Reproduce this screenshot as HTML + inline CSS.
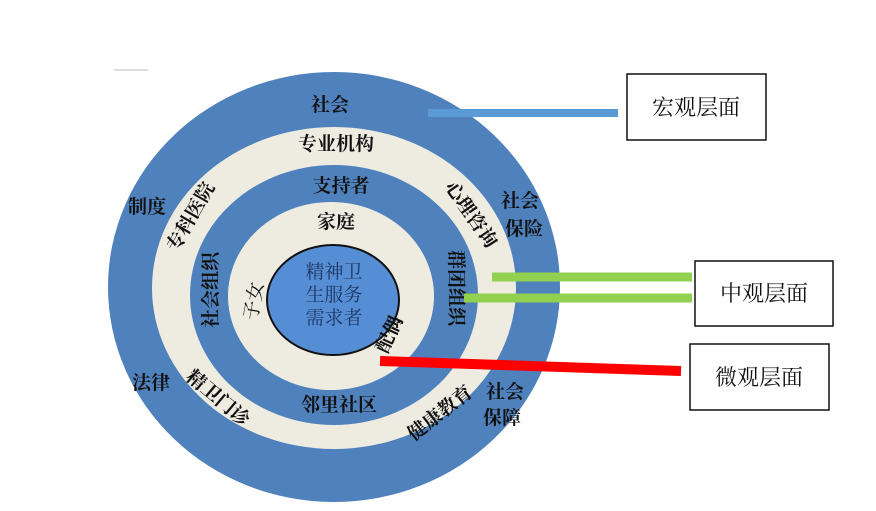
<!DOCTYPE html>
<html><head><meta charset="utf-8"><style>
html,body{margin:0;padding:0;background:#fff;width:876px;height:511px;overflow:hidden}
</style></head><body>
<svg width="876" height="511" viewBox="0 0 876 511" xmlns="http://www.w3.org/2000/svg" font-family="'Liberation Serif','Noto Serif CJK SC',serif">
<line x1="114" y1="70" x2="148" y2="70" stroke="#bbb" stroke-width="1"/>
<ellipse cx="334" cy="287" rx="226" ry="215" fill="#4f81bd"/>
<ellipse cx="334" cy="288" rx="182" ry="161" fill="#eeece1"/>
<ellipse cx="334" cy="295" rx="144" ry="130" fill="#4f81bd"/>
<ellipse cx="331" cy="296" rx="103" ry="94" fill="#eeece1"/>
<ellipse cx="333" cy="300" rx="66" ry="55" fill="#558ed5" stroke="#111" stroke-width="2"/>
<g font-weight="bold" font-size="19" fill="#111" text-anchor="middle">
<text x="330" y="111">社会</text>
<text x="336" y="150">专业机构</text>
<text x="341" y="192">支持者</text>
<text x="336" y="228">家庭</text>
<text x="147" y="213">制度</text>
<text x="151" y="389">法律</text>
<text x="520" y="207">社会</text>
<text x="524" y="235">保险</text>
<text x="505" y="398">社会</text>
<text x="502" y="424">保障</text>
<text x="339" y="411">邻里社区</text>
<text transform="translate(196,220) rotate(-60)">专科医院</text>
<text transform="translate(217,290) rotate(-90)">社会组织</text>
<text transform="translate(450,288) rotate(90)">群团组织</text>
<text transform="translate(466,218) rotate(55)">心理咨询</text>
<text transform="translate(214,403) rotate(40)">精卫门诊</text>
<text transform="translate(444,418) rotate(-38)">健康教育</text>
<text transform="translate(395,337) rotate(-65)">配偶</text>
</g>
<text transform="translate(260,302) rotate(-80)" font-size="19" text-anchor="middle" fill="#111">子女</text>
<g font-size="19" fill="#1f3864" text-anchor="middle">
<text x="334" y="278">精神卫</text>
<text x="334" y="301">生服务</text>
<text x="334" y="324">需求者</text>
</g>
<line x1="428" y1="113" x2="618" y2="113" stroke="#5b9bd5" stroke-width="8"/>
<line x1="492" y1="277" x2="692" y2="277" stroke="#92d050" stroke-width="9"/>
<line x1="464" y1="298" x2="692" y2="298" stroke="#92d050" stroke-width="9"/>
<line x1="380" y1="361" x2="681" y2="371" stroke="#ff0000" stroke-width="10"/>
<g fill="#fff" stroke="#111" stroke-width="1.5">
<rect x="627" y="74" width="139" height="66"/>
<rect x="695" y="261" width="138" height="65"/>
<rect x="690" y="344" width="139" height="66"/>
</g>
<g font-size="22" fill="#111" text-anchor="middle">
<text x="696" y="115">宏观层面</text>
<text x="764" y="301">中观层面</text>
<text x="759" y="385">微观层面</text>
</g>
</svg>
</body></html>
